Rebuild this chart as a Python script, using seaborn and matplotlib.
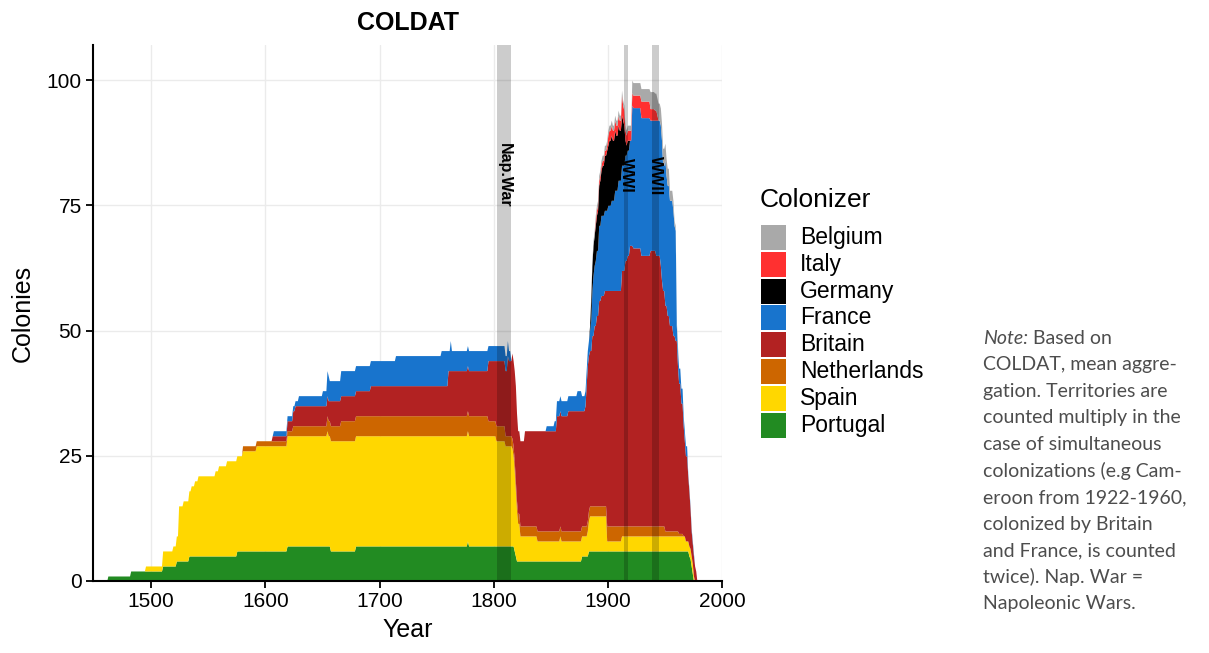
import numpy as np
import pandas as pd
import matplotlib
matplotlib.use("Agg")
import matplotlib.pyplot as plt
import seaborn as sns
from matplotlib.patches import Rectangle

# ---------------- data (step breakpoints: year -> colonies held) ----------------
colonizers = ["Portugal", "Spain", "Netherlands", "Britain", "France", "Germany", "Italy", "Belgium"]

portugal_years = [1462, 1482, 1510, 1522, 1533, 1575, 1619, 1657, 1679, 1777, 1778, 1818, 1819, 1820,
                  1877, 1883, 1971, 1972, 1973, 1974, 1975]
portugal_vals = [1, 2, 3, 4, 5, 6, 7, 6, 7, 8, 7, 6, 5, 4, 5, 6, 5, 4.5, 3, 1.5, 0]

spain_years = [1495, 1510, 1519, 1522, 1524, 1528, 1533, 1535, 1538, 1541, 1556, 1559, 1566, 1580, 1592,
               1619, 1654, 1655, 1802, 1810, 1816, 1817, 1818, 1819, 1820, 1821, 1823, 1838, 1858, 1859,
               1882, 1883, 1884, 1899, 1912, 1968, 1975, 1976]
spain_vals = [1, 3, 4, 5, 11, 12, 13, 14, 15, 16, 17, 18, 19, 20, 21,
              22, 23, 22, 21, 20, 19.5, 18, 16, 13, 10, 7.5, 5, 4, 5, 4,
              5, 6, 7, 2, 3, 2, 1, 0]

netherlands_years = [1580, 1624, 1654, 1666, 1795, 1810, 1899, 1912, 1950, 1962, 1966]
netherlands_vals = [1, 2, 3, 4, 3, 2, 3, 2, 1, 0.5, 0]

britain_years = [1606, 1619, 1624, 1626, 1654, 1657, 1692, 1760, 1795, 1802,
                 1812, 1813, 1816, 1818, 1819, 1820, 1821, 1823, 1827, 1838,
                 1855, 1865, 1877, 1880, 1881, 1882, 1884, 1886, 1888, 1890,
                 1892, 1894, 1897, 1899, 1912, 1915, 1917, 1919, 1922, 1929,
                 1937, 1942, 1946, 1947, 1948, 1950, 1952, 1954, 1957, 1959,
                 1961, 1962, 1964, 1966, 1967, 1968, 1970, 1971, 1972, 1973,
                 1974, 1976, 1977, 1978]
britain_vals = [1, 2, 3, 4, 4, 5, 6, 9, 12, 13,
                16, 15, 17, 18, 19, 17.5, 16.5, 17, 19, 20,
                23, 24, 23, 24, 28, 31, 31, 34, 36, 38,
                41, 42, 43, 47, 51, 53, 54, 56, 55.5, 54,
                55, 54, 52, 49, 47, 45, 43, 41, 39, 38,
                33, 30, 26, 22, 19, 17, 13, 11, 8, 5,
                4, 3, 2, 0]

france_years = [1607, 1629, 1650, 1654, 1656, 1666, 1714, 1754, 1760, 1762,
                1763, 1795, 1813, 1815, 1846, 1853, 1855, 1873, 1877, 1884,
                1885, 1886, 1887, 1889, 1892, 1894, 1897, 1900, 1903, 1906,
                1909, 1912, 1915, 1921, 1929, 1937, 1942, 1946, 1948, 1950,
                1951, 1954, 1958, 1960, 1966, 1970, 1976]
france_vals = [1, 2, 3, 5, 4, 5, 6, 7, 4, 6,
               4, 3, 2, 0, 1, 2, 3, 4, 3, 4,
               6, 9, 12, 13, 15, 16, 16, 17, 18, 20,
               22, 21, 21, 28, 27.5, 26, 27, 28, 25, 29,
               26, 25, 22, 3, 2, 0.5, 0]

germany_years = [1884, 1885, 1886, 1887, 1889, 1891, 1893, 1895, 1897, 1899,
                 1901, 1904, 1907, 1910, 1913, 1914, 1915, 1916, 1919]
germany_vals = [1, 4, 5, 6, 7, 8, 9, 10, 11, 12, 13, 12, 11, 10, 9, 8, 3, 2, 0]

italy_years = [1889, 1900, 1912, 1913, 1915, 1921, 1929, 1937, 1941, 1943, 1944]
italy_vals = [1, 2, 4, 3, 2, 2.5, 3.3, 2.3, 2, 1, 0]

belgium_years = [1885, 1921, 1937, 1954, 1958, 1962]
belgium_vals = [1, 2.5, 3.4, 2, 1, 0]

events = ["Nap.War", "WWI", "WWII"]
event_start = [1803, 1914, 1939]
event_end = [1815, 1918, 1945]

note_lines = ["Based on", "COLDAT, mean aggre-", "gation. Territories are",
              "counted multiply in the", "case of simultaneous",
              "colonizations (e.g Cam-", "eroon from 1922-1960,",
              "colonized by Britain", "and France, is counted",
              "twice). Nap. War =", "Napoleonic Wars."]

# ---------------- style ----------------
palette = {"Belgium": "#A9A9A9", "Italy": "#FF3030", "Germany": "#000000",
           "France": "#1874CD", "Britain": "#B22222", "Netherlands": "#CD6600",
           "Spain": "#FFD700", "Portugal": "#228B22"}

sns.set_theme(style="white")
plt.rcParams["font.family"] = ["Liberation Sans", "DejaVu Sans"]

year_grid = np.arange(1455, 1985)
series_src = {
    "Portugal": (portugal_years, portugal_vals),
    "Spain": (spain_years, spain_vals),
    "Netherlands": (netherlands_years, netherlands_vals),
    "Britain": (britain_years, britain_vals),
    "France": (france_years, france_vals),
    "Germany": (germany_years, germany_vals),
    "Italy": (italy_years, italy_vals),
    "Belgium": (belgium_years, belgium_vals),
}
df = pd.DataFrame({"year": year_grid})
for name in colonizers:
    yrs, vals = series_src[name]
    s = pd.Series(vals, index=yrs, dtype=float)
    df[name] = s.reindex(year_grid).ffill().fillna(0).values

W, H = 1209, 653
fig = plt.figure(figsize=(W / 100, H / 100), dpi=100)
ax = fig.add_axes([93 / W, 1 - 581 / H, (722 - 93) / W, (581 - 45) / H])

ax.stackplot(df["year"], *[df[c] for c in colonizers],
             colors=[palette[c] for c in colonizers], linewidth=0, zorder=2)

for name, s, e in zip(events, event_start, event_end):
    ax.axvspan(s, e, color="black", alpha=0.2, linewidth=0, zorder=3)
    ax.text((s + e) / 2, 81, name, rotation=-90, ha="center", va="center",
            fontsize=11.5, fontweight="bold", color="black", zorder=4)

ax.set_xlim(1449, 2000)
ax.set_ylim(0, 107)
ax.set_xticks([1500, 1600, 1700, 1800, 1900, 2000])
ax.set_yticks([0, 25, 50, 75, 100])
ax.grid(True, color="#EBEBEB", linewidth=1.0, zorder=0)
ax.set_axisbelow(True)
sns.despine(ax=ax)
for sp in ["left", "bottom"]:
    ax.spines[sp].set_color("black")
    ax.spines[sp].set_linewidth(1.5)
ax.tick_params(axis="both", which="major", length=5, width=1.3, color="black",
               labelsize=15, labelcolor="black", direction="out", bottom=True, left=True, pad=3)
ax.set_xlabel("Year", fontsize=18, color="black", labelpad=5)
ax.set_ylabel("Colonies", fontsize=18, color="black", labelpad=9)
ax.set_title("COLDAT", fontsize=18, fontweight="bold", color="black", pad=11)

# legend (top entry = top of stack)
fig.text(760 / W, 1 - 200 / H, "Colonizer", fontsize=19, va="center", ha="left", color="black")
legend_order = colonizers[::-1]
for i, name in enumerate(legend_order):
    cy = 237.5 + i * 26.8
    fig.add_artist(Rectangle((761 / W, 1 - (cy + 12.5) / H), 25 / W, 25 / H,
                             transform=fig.transFigure, facecolor=palette[name],
                             edgecolor="none"))
    fig.text(800 / W, 1 - cy / H, name, fontsize=16.5, va="center", ha="left", color="black")

# note
note_color = "#4D4D4D"
note_font = ["Lato", "DejaVu Sans"]
note_size = 14
fig.canvas.draw()
r = fig.canvas.get_renderer()
t0 = fig.text(983 / W, 1 - 338 / H, "Note:", fontsize=note_size, style="italic", family=note_font,
              color=note_color, va="center", ha="left")
bb = t0.get_window_extent(renderer=r)
fig.text((bb.x1 + 5) / W, 1 - 338 / H, note_lines[0], fontsize=note_size, family=note_font,
         color=note_color, va="center", ha="left")
for i, line in enumerate(note_lines[1:], start=1):
    fig.text(983 / W, 1 - (338 + i * 26.6) / H, line, fontsize=note_size, family=note_font,
             color=note_color, va="center", ha="left")

fig.savefig("out.png", dpi=100)
